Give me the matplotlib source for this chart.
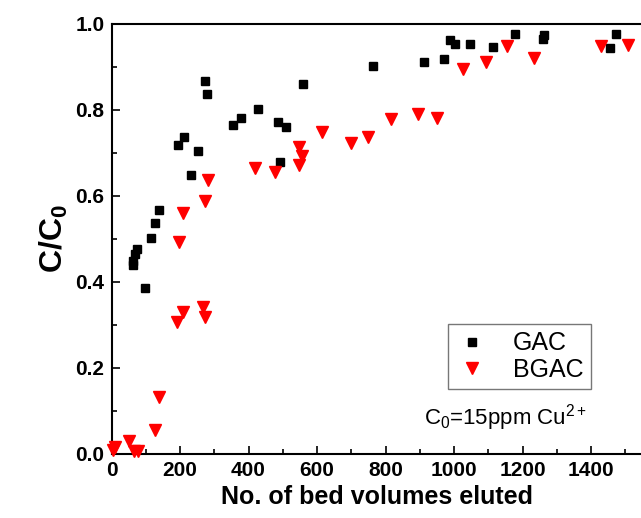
import matplotlib
matplotlib.use("Agg")
import matplotlib.pyplot as plt
from matplotlib.ticker import MultipleLocator

plt.rcParams["font.family"] = ["Liberation Sans", "DejaVu Sans"]
plt.rcParams["mathtext.fontset"] = "custom"
plt.rcParams["mathtext.rm"] = "Liberation Sans"
plt.rcParams["mathtext.it"] = "Liberation Sans:italic"
plt.rcParams["mathtext.bf"] = "Liberation Sans:bold"

# GAC breakthrough data
gac_bv = [62, 63, 68, 74, 99, 114, 127, 139, 194, 213, 231, 252, 273, 278,
          356, 378, 427, 487, 493, 509, 558, 763, 912, 970, 989, 1004, 1046,
          1115, 1177, 1259, 1263, 1455, 1473]
gac_c = [0.439, 0.447, 0.464, 0.475, 0.386, 0.502, 0.536, 0.567, 0.718, 0.737,
         0.648, 0.704, 0.867, 0.836, 0.765, 0.781, 0.802, 0.771, 0.678, 0.760,
         0.860, 0.902, 0.911, 0.919, 0.961, 0.952, 0.952, 0.946, 0.977, 0.964,
         0.973, 0.944, 0.977]

# BGAC breakthrough data
bgac_bv = [5, 10, 52, 66, 78, 127, 139, 190, 197, 208, 210, 268, 273, 274, 281,
           419, 477, 546, 547, 555, 615, 699, 749, 816, 894, 950, 1025, 1093,
           1154, 1234, 1428, 1507]
bgac_c = [0.008, 0.016, 0.030, 0.006, 0.006, 0.055, 0.133, 0.307, 0.493, 0.330,
          0.560, 0.342, 0.319, 0.588, 0.637, 0.665, 0.656, 0.672, 0.713, 0.692,
          0.747, 0.723, 0.737, 0.778, 0.789, 0.780, 0.895, 0.910, 0.948, 0.920,
          0.948, 0.951]

fig = plt.figure(figsize=(6.41, 5.18), dpi=100)
ax = fig.add_axes([111.5 / 641, 64.3 / 518, 531.0 / 641, 430 / 518])

ax.plot(gac_bv, gac_c, "s", color="black", markersize=6.2, linestyle="none",
        label="GAC", clip_on=False, zorder=3)
ax.plot(bgac_bv, bgac_c, "v", color="red", markersize=8.5, linestyle="none",
        label="BGAC", clip_on=False, zorder=3)

ax.set_xlim(0, 1550)
ax.set_ylim(0, 1.0)
ax.xaxis.set_major_locator(MultipleLocator(200))
ax.xaxis.set_minor_locator(MultipleLocator(100))
ax.yaxis.set_major_locator(MultipleLocator(0.2))
ax.yaxis.set_minor_locator(MultipleLocator(0.1))
ax.set_xticks(range(0, 1401, 200))
ax.set_yticks([0.0, 0.2, 0.4, 0.6, 0.8, 1.0])
ax.set_yticklabels(["0.0", "0.2", "0.4", "0.6", "0.8", "1.0"])

ax.tick_params(which="both", direction="in", width=1.2, top=False, right=False)
ax.tick_params(which="major", length=6, labelsize=15, pad=5)
ax.tick_params(which="minor", length=3.5)
for lab in ax.get_xticklabels() + ax.get_yticklabels():
    lab.set_fontweight("bold")

for s in ax.spines.values():
    s.set_linewidth(1.5)
ax.spines["right"].set_visible(False)

ax.set_xlabel("No. of bed volumes eluted", fontsize=18, fontweight="bold",
              labelpad=4)
ax.set_ylabel(r"$\mathbf{C/C_0}$", fontsize=23, labelpad=4)

leg = ax.legend(loc="upper left", bbox_to_anchor=(0.634, 0.302), fontsize=18,
                frameon=True, fancybox=False, edgecolor="#555555",
                handlelength=1.3, handletextpad=1.0, borderpad=0.3,
                labelspacing=0.1, borderaxespad=0)
leg.get_frame().set_linewidth(1.0)

ax.text(0.741, 0.085, r"C$_0$=15ppm Cu$^{2+}$", transform=ax.transAxes,
        ha="center", va="center", fontsize=16)

fig.savefig("out.png", dpi=100)
